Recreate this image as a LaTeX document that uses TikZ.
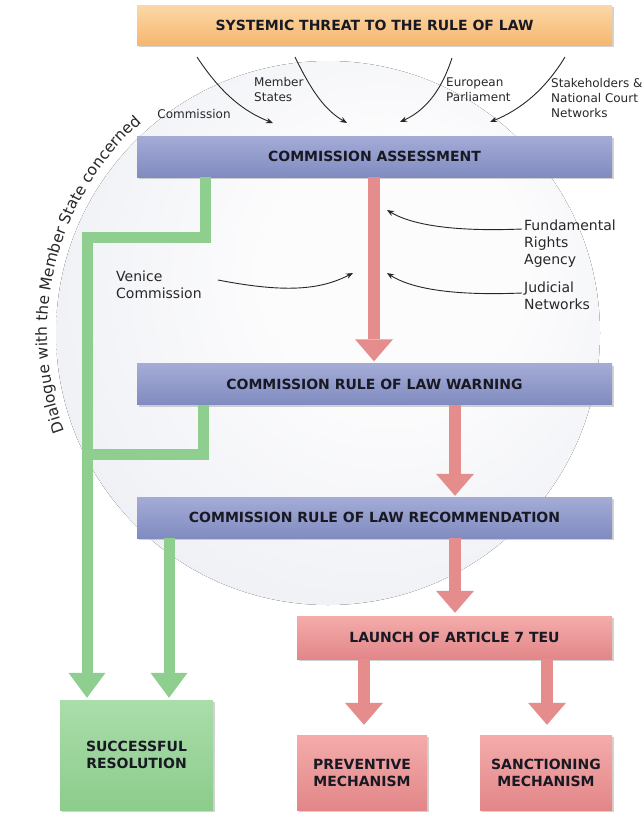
\documentclass[tikz,border=0pt]{standalone}
\usepackage{fontspec}
\setmainfont{DejaVu Sans}
\usetikzlibrary{arrows.meta,shadows,decorations.text}
\definecolor{orT}{RGB}{251,216,166}
\definecolor{orB}{RGB}{245,183,112}
\definecolor{blT}{RGB}{164,172,214}
\definecolor{blB}{RGB}{128,139,192}
\definecolor{pkT}{RGB}{244,172,170}
\definecolor{pkB}{RGB}{226,134,137}
\definecolor{gnT}{RGB}{170,221,170}
\definecolor{gnB}{RGB}{140,204,140}
\definecolor{redshaft}{RGB}{229,140,140}
\definecolor{grnshaft}{RGB}{142,206,142}
\definecolor{boxtext}{RGB}{25,25,35}
\definecolor{labtext}{RGB}{40,40,40}
\definecolor{sphc}{RGB}{252,252,253}
\definecolor{sphm}{RGB}{234,236,242}
\definecolor{sphe}{RGB}{208,212,224}
\pgfdeclareradialshading{sphere}{\pgfpoint{8bp}{8bp}}{color(0bp)=(sphc); color(12bp)=(sphc); color(38bp)=(sphm); color(50bp)=(sphe)}
\begin{document}
\begin{tikzpicture}[x=1pt,y=-1pt,
  box/.style={inner sep=0pt, align=center, font=\bfseries\fontsize{14}{17}\selectfont, text=boxtext,
    drop shadow={shadow xshift=1.5pt,shadow yshift=-2pt,opacity=0.35}},
  orbox/.style={box, top color=orT, bottom color=orB},
  blbox/.style={box, top color=blT, bottom color=blB, minimum width=475pt, minimum height=41pt},
  pkbox/.style={box, top color=pkT, bottom color=pkB},
  gnbox/.style={box, top color=gnT, bottom color=gnB},
  toplab/.style={inner sep=0pt, align=left, text=labtext, font=\fontsize{12}{15}\selectfont},
  sidelab/.style={inner sep=0pt, align=left, text=labtext, font=\fontsize{14}{17}\selectfont},
  inarr/.style={line width=0.9pt, draw=black!85, -{Stealth[length=7pt,width=5.5pt]}},
  redarr/.style={line width=12pt, draw=redshaft, -{Triangle[length=22pt,width=38pt,line width=0pt,fill=redshaft]}},
  grnline/.style={line width=11pt, draw=grnshaft, line join=miter},
  grnarr/.style={grnline, -{Triangle[length=25pt,width=37pt,line width=0pt,fill=grnshaft]}}
]
\useasboundingbox (0,0) rectangle (644,814);
\fill[white] (0,0) rectangle (644,814);
% background sphere
\fill[shading=sphere] (328,333) circle (272);
\path[decorate, decoration={text along path, text align=center,
  text={|\fontsize{15.5}{18}\selectfont\color{labtext}|Dialogue with the Member State concerned}}]
  (84.7,473.5) arc[start angle=-210, end angle=-122, radius=281];

% boxes
\node[orbox, minimum width=475pt, minimum height=40pt] (top) at (374.5,25) {SYSTEMIC THREAT TO THE RULE OF LAW};
\node[blbox] (assess) at (374.5,156.5) {COMMISSION ASSESSMENT};
\node[blbox] (warn) at (374.5,384) {COMMISSION RULE OF LAW WARNING};
\node[blbox] (rec) at (374.5,517.5) {COMMISSION RULE OF LAW RECOMMENDATION};
\node[pkbox, minimum width=315pt, minimum height=43pt] (launch) at (454.5,637.5) {LAUNCH OF ARTICLE 7 TEU};
\node[pkbox, minimum width=130pt, minimum height=75pt] (prev) at (362,772.5) {PREVENTIVE\\MECHANISM};
\node[pkbox, minimum width=132pt, minimum height=75pt] (sanc) at (546,772.5) {SANCTIONING\\MECHANISM};
\node[gnbox, minimum width=153pt, minimum height=110pt] (succ) at (136.5,755) {SUCCESSFUL\\RESOLUTION};

% labels
\node[toplab] (lcom) at (194,114) {Commission};
\node[toplab, anchor=west] (lms) at (254,90) {Member\\States};
\node[toplab, anchor=west] (lep) at (446,90) {European\\Parliament};
\node[toplab, anchor=west] (lst) at (551,98.5) {Stakeholders \&\\National Court\\Networks};
\node[sidelab, anchor=west] (lfra) at (524,244) {Fundamental\\Rights\\Agency};
\node[sidelab, anchor=west] (ljud) at (524,295.5) {Judicial\\Networks};
\node[sidelab, anchor=west] (lven) at (116,285) {Venice\\Commission};

% thin input arrows
\coordinate (a1s) at (197,57);  \coordinate (a1e) at (273,123);
\coordinate (a2s) at (295,57);  \coordinate (a2e) at (347,123);
\coordinate (a3s) at (452,58);  \coordinate (a3e) at (400,122);
\coordinate (a4s) at (565,57);  \coordinate (a4e) at (490,122);
\coordinate (a5s) at (522,229); \coordinate (a5e) at (387,210);
\coordinate (a6s) at (522,293); \coordinate (a6e) at (387,273);
\coordinate (a7s) at (218,280); \coordinate (a7e) at (353,273);
\draw[inarr] (a1s) .. controls (222,95) and (245,112) .. (a1e);
\draw[inarr] (a2s) .. controls (312,92) and (325,110) .. (a2e);
\draw[inarr] (a3s) .. controls (440,95) and (422,112) .. (a3e);
\draw[inarr] (a4s) .. controls (545,90) and (520,110) .. (a4e);
\draw[inarr] (a5s) .. controls (450,232) and (410,224) .. (a5e);
\draw[inarr] (a6s) .. controls (450,296) and (410,288) .. (a6e);
\draw[inarr] (a7s) .. controls (285,293) and (320,290) .. (a7e);

% red flow arrows
\coordinate (xr1) at (374,0);
\coordinate (xr2) at (455,0);
\coordinate (xr4) at (364,0);
\coordinate (xr5) at (547,0);
\draw[redarr, shorten >=2pt] (xr1 |- assess.south) -- (xr1 |- warn.north);
\draw[redarr, shorten >=1pt] (xr2 |- warn.south) -- (xr2 |- rec.north);
\draw[redarr, shorten >=3pt] (xr2 |- rec.south) -- (xr2 |- launch.north);
\draw[redarr, shorten >=10pt] (xr4 |- launch.south) -- (xr4 |- prev.north);
\draw[redarr, shorten >=10pt] (xr5 |- launch.south) -- (xr5 |- sanc.north);

% green dialogue paths
\coordinate (gk1) at (205,237);
\coordinate (gk2) at (87,237);
\coordinate (gk3) at (203,454);
\coordinate (gk4) at (81.5,454);
\coordinate (gk5) at (169,0);
\draw[grnarr, shorten >=2pt] (gk1 |- assess.south) -- (gk1) -- (gk2) -- (gk2 |- succ.north);
\draw[grnline] (gk3 |- warn.south) -- (gk3) -- (gk4);
\draw[grnarr, shorten >=2pt] (gk5 |- rec.south) -- (gk5 |- succ.north);
\end{tikzpicture}
\end{document}
